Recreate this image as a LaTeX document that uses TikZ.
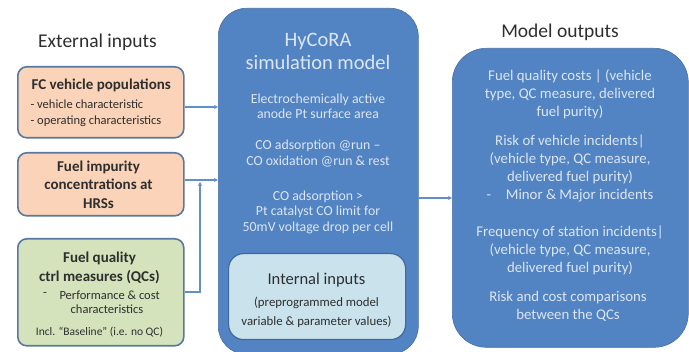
\documentclass[tikz,border=0pt]{standalone}
\usepackage{fontspec}
\setmainfont{Carlito}
\usetikzlibrary{arrows.meta}
\definecolor{mblue}{HTML}{5283C2}
\definecolor{bord}{HTML}{5878A2}
\definecolor{peach}{HTML}{FAD3B8}
\definecolor{lgreen}{HTML}{D5E3BC}
\definecolor{lcyan}{HTML}{C9E2EC}
\definecolor{ltext}{HTML}{DCE6F3}
\definecolor{dtext}{HTML}{2E2E2E}
\tikzset{
  inbox/.style={draw=bord, line width=1.6pt, rounded corners=9pt},
  bigbox/.style={fill=mblue, draw=mblue!85!black, line width=0.6pt, rounded corners=28pt},
  head/.style={font=\fontsize{19.5}{22}\selectfont, text=dtext},
  btitle/.style={align=center, font=\bfseries\fontsize{15}{18.5}\selectfont, text=dtext},
  wtxt/.style={text=ltext, align=center, font=\fontsize{13.8}{15.5}\selectfont},
  otxt/.style={text=ltext, align=center, font=\fontsize{14.8}{18}\selectfont},
  small/.style={font=\fontsize{12.5}{14}\selectfont, text=dtext},
  conn/.style={draw=mblue!90, line width=1.3pt, -{Stealth[length=4pt,width=4pt]}},
}
\begin{document}
\begin{tikzpicture}[x=1pt,y=-1pt]
\useasboundingbox (0,0) rectangle (689,352);
% headings
\node[head] (hin) at (97.5,42) {External inputs};
\node[head] (hout) at (560,32) {Model outputs};
% input boxes
\node[inbox, fill=peach, minimum width=166pt, minimum height=71pt, anchor=north west] (fc) at (17,66) {};
\node[anchor=west, btitle] (fct) at (28,85) {FC vehicle populations};
\node[anchor=west, align=left, font=\fontsize{12.5}{16}\selectfont, text=dtext] (fcl) at (27,113) {- vehicle characteristic\\- operating characteristics};
\node[inbox, fill=peach, minimum width=166pt, minimum height=63pt, anchor=north west] (fi) at (17,152) {};
\node[btitle] (fit) at (98.5,184.5) {Fuel impurity\\concentrations at\\HRSs};
\node[inbox, fill=lgreen, minimum width=166pt, minimum height=107pt, anchor=north west] (qc) at (17,238) {};
\node[btitle, font=\bfseries\fontsize{15}{19}\selectfont] (qct) at (99.5,267.5) {Fuel quality\\ctrl measures (QCs)};
\node[small] (qcd) at (45,295) {-};
\node[small, anchor=west] (qcl1) at (56,295) {Performance \& cost};
\node[small] (qcl2) at (107,309.5) {characteristics};
\node[font=\fontsize{11.5}{14}\selectfont, text=dtext] (qcb) at (99.5,332) {Incl. ``Baseline'' (i.e. no QC)};
% main model box
\node[bigbox, minimum width=200pt, minimum height=346pt, anchor=north west] (model) at (218,8) {};
\node[text=ltext, align=center, font=\fontsize{20.5}{23}\selectfont] (mt) at (318,51.5) {HyCoRA\\simulation model};
\node[wtxt] (m1) at (318,106.5) {Electrochemically active\\anode Pt surface area};
\node[wtxt] (m2) at (318,153.5) {CO adsorption @run --\\CO oxidation @run \& rest};
\node[wtxt] (m3) at (318,212) {CO adsorption {>}\\Pt catalyst CO limit for\\50mV voltage drop per cell};
\node[fill=lcyan, draw=mblue!80!black, line width=1.2pt, rounded corners=15pt, minimum width=177pt, minimum height=86pt, anchor=north west] (ii) at (228,253) {};
\node[text=dtext, font=\fontsize{16.5}{19}\selectfont] (iit) at (316.5,280) {Internal inputs};
\node[text=dtext, align=center, font=\fontsize{12.8}{19}\selectfont] (iil) at (316.5,312.5) {(preprogrammed model\\variable \& parameter values)};
% outputs box
\node[bigbox, rounded corners=34pt, minimum width=236pt, minimum height=299pt, anchor=north west] (out) at (452,48) {};
\node[otxt] (o1) at (570,94.5) {Fuel quality costs | (vehicle\\type, QC measure, delivered\\fuel purity)};
\node[otxt] (o2) at (570,168.5) {Risk of vehicle incidents|\\(vehicle type, QC measure,\\delivered fuel purity)\\-\quad Minor \& Major incidents};
\node[otxt] (o3) at (570,250) {Frequency of station incidents|\\(vehicle type, QC measure,\\delivered fuel purity)};
\node[otxt] (o4) at (568,306) {Risk and cost comparisons\\between the QCs};
% connectors
\draw[conn] (fc.east |- 0,107) -- (model.west |- 0,107);
\draw[conn] (fi.east |- 0,180) -- (model.west |- 0,180);
\coordinate (jn) at (200,182);
\draw[conn] (qc.east |- 0,292) -| (jn);
\draw[conn] (model.east |- 0,198) -- (out.west |- 0,198);
\end{tikzpicture}
\end{document}
